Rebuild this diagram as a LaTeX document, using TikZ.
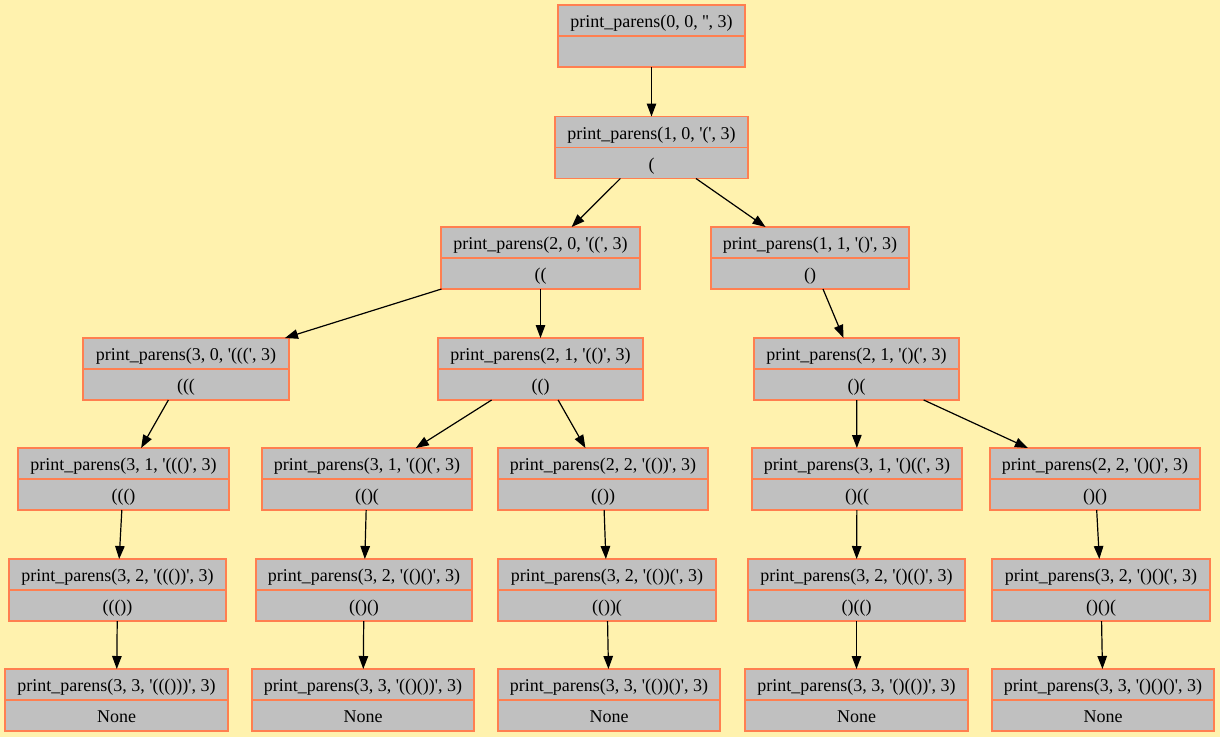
\documentclass[tikz,border=0pt]{standalone}
\usepackage{fontspec}
\setmainfont{Liberation Serif}[Ligatures=TeXOff]
\usetikzlibrary{arrows.meta}
\definecolor{bgyellow}{HTML}{FFF2AE}
\definecolor{recfill}{HTML}{C0C0C0}
\definecolor{recedge}{HTML}{FF7F50}
\tikzset{
  recbox/.style={draw=recedge, fill=recfill, line width=1.3pt, rectangle,
    minimum height=62pt, inner sep=0pt, outer sep=0pt},
  recline/.style={draw=recedge, line width=1.3pt},
  rectxt/.style={anchor=base, inner sep=0pt, font=\fontsize{18}{20}\selectfont},
  edge/.style={draw=black, line width=1.2pt, -{Triangle[length=13pt,width=9.5pt]}},
}
% \recnode{name}{center x}{center y}{width}{call}{prefix}
\newcommand\recnode[6]{%
  \node[recbox, minimum width=#4pt] (#1) at (#2,#3) {};
  \draw[recline] (#1.west) -- (#1.east);
  \node[rectxt] (#1a) at (#2,#3-8.5) {#5};
  \node[rectxt] (#1b) at (#2,#3+22.5) {#6};
}
\begin{document}
\begin{tikzpicture}[x=1pt,y=-1pt]
\fill[bgyellow] (0,0) rectangle (1220,737);
\useasboundingbox (0,0) rectangle (1220,737);

% level 0
\recnode{n0}{651.5}{36}{187}{print\_parens(0, 0, '', 3)}{}
% level 1
\recnode{n1}{651.5}{147.5}{193}{print\_parens(1, 0, '(', 3)}{(}
% level 2
\recnode{n2}{540.5}{258}{199}{print\_parens(2, 0, '((', 3)}{((}
\recnode{n3}{810}{258}{198}{print\_parens(1, 1, '()', 3)}{()}
% level 3
\recnode{n4}{186}{369}{206}{print\_parens(3, 0, '(((', 3)}{(((}
\recnode{n5}{540.5}{369}{205}{print\_parens(2, 1, '(()', 3)}{(()}
\recnode{n6}{856.5}{369}{205}{print\_parens(2, 1, '()(', 3)}{()(}
% level 4
\recnode{n7}{123.5}{479}{211}{print\_parens(3, 1, '((()', 3)}{((()}
\recnode{n8}{367}{479}{210}{print\_parens(3, 1, '(()(', 3)}{(()(}
\recnode{n9}{603}{479}{210}{print\_parens(2, 2, '(())', 3)}{(())}
\recnode{n10}{857}{479}{210}{print\_parens(3, 1, '()((', 3)}{()((}
\recnode{n11}{1095}{479}{210}{print\_parens(2, 2, '()()', 3)}{()()}
% level 5
\recnode{n12}{117.5}{590}{217}{print\_parens(3, 2, '((())', 3)}{((())}
\recnode{n13}{364}{590}{216}{print\_parens(3, 2, '(()()', 3)}{(()()}
\recnode{n14}{607}{590}{218}{print\_parens(3, 2, '(())(', 3)}{(())(}
\recnode{n15}{856.5}{590}{217}{print\_parens(3, 2, '()(()', 3)}{()(()}
\recnode{n16}{1101}{590}{218}{print\_parens(3, 2, '()()(', 3)}{()()(}
% level 6
\recnode{n17}{116.5}{700}{223}{print\_parens(3, 3, '((()))', 3)}{None}
\recnode{n18}{363}{700}{222}{print\_parens(3, 3, '(()())', 3)}{None}
\recnode{n19}{609}{700}{222}{print\_parens(3, 3, '(())()', 3)}{None}
\recnode{n20}{856.5}{700}{223}{print\_parens(3, 3, '()(())', 3)}{None}
\recnode{n21}{1103}{700}{222}{print\_parens(3, 3, '()()()', 3)}{None}

% call edges
\draw[edge] (n0) -- (n1);
\draw[edge] (n1) -- (n2);
\draw[edge] (n1) -- (n3);
\draw[edge] (n2) -- (n4);
\draw[edge] (n2) -- (n5);
\draw[edge] (n3) -- (n6);
\draw[edge] (n4) -- (n7);
\draw[edge] (n5) -- (n8);
\draw[edge] (n5) -- (n9);
\draw[edge] (n6) -- (n10);
\draw[edge] (n6) -- (n11);
\draw[edge] (n7) -- (n12);
\draw[edge] (n8) -- (n13);
\draw[edge] (n9) -- (n14);
\draw[edge] (n10) -- (n15);
\draw[edge] (n11) -- (n16);
\draw[edge] (n12) -- (n17);
\draw[edge] (n13) -- (n18);
\draw[edge] (n14) -- (n19);
\draw[edge] (n15) -- (n20);
\draw[edge] (n16) -- (n21);
\end{tikzpicture}
\end{document}
